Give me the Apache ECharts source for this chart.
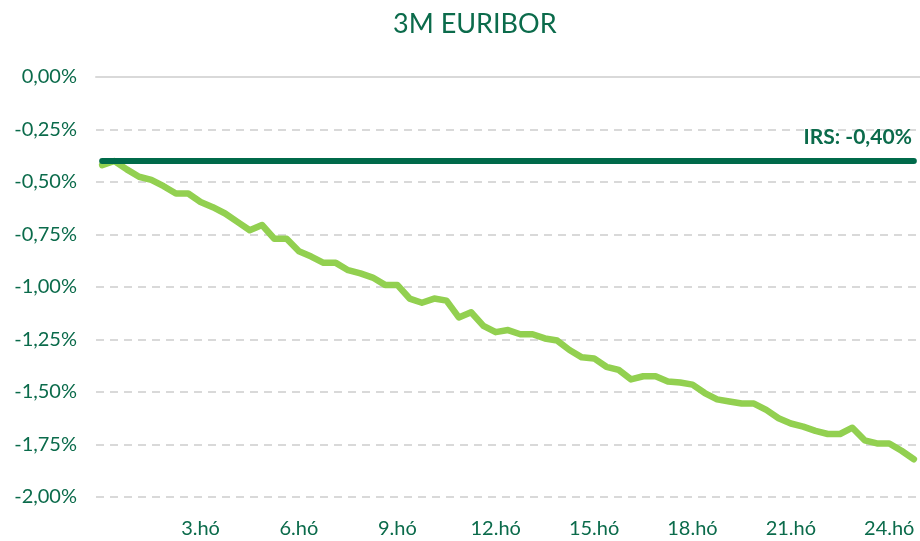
<!DOCTYPE html>
<html>
<head>
<meta charset="utf-8">
<script src="https://cdn.jsdelivr.net/npm/echarts@6/dist/echarts.min.js"></script>
<style>html,body{margin:0;padding:0;background:#fff}#c{width:920px;height:541px}</style>
</head>
<body>
<div id="c"></div>
<script>
// 3M EURIBOR path (%), one point every ~1/3 month (8 points per 3 months)
const euribor = [-0.42, -0.40, -0.44, -0.475, -0.49, -0.52, -0.555, -0.555, -0.595, -0.62,
  -0.65, -0.69, -0.73, -0.705, -0.77, -0.77, -0.83, -0.855, -0.885, -0.885,
  -0.92, -0.935, -0.955, -0.99, -0.99, -1.055, -1.075, -1.055, -1.065, -1.145,
  -1.12, -1.185, -1.215, -1.205, -1.225, -1.225, -1.245, -1.255, -1.30, -1.335,
  -1.34, -1.38, -1.395, -1.44, -1.425, -1.425, -1.45, -1.455, -1.465, -1.505,
  -1.535, -1.545, -1.555, -1.555, -1.585, -1.625, -1.65, -1.665, -1.685, -1.70,
  -1.70, -1.67, -1.73, -1.745, -1.745, -1.78, -1.82];
const irsRate = -0.40;
const tickLabels = ['3.hó', '6.hó', '9.hó', '12.hó', '15.hó', '18.hó', '21.hó', '24.hó'];
const pointsPerTick = 8;
const yTicks = [0, -0.25, -0.5, -0.75, -1.0, -1.25, -1.5, -1.75, -2.0];

const categories = euribor.map((_, i) => String(i));
const irsData = categories.map(() => irsRate);
const fmtPct = v => v.toFixed(2).replace('.', ',') + '%';
const green = '#0B6B4B';
const font = 'Lato, "Noto Sans", sans-serif';

const chart = echarts.init(document.getElementById('c'), null, {renderer: 'canvas'});
chart.setOption({
  animation: false,
  title: {
    text: '3M EURIBOR', left: 388, top: 6,
    textStyle: {color: green, fontFamily: font, fontSize: 27, fontWeight: 'normal'}
  },
  grid: {left: 96, top: 77, width: 826, height: 420, containLabel: false},
  xAxis: [{
    type: 'category', data: categories, boundaryGap: true, position: 'bottom',
    axisLine: {show: false}, axisTick: {show: false},
    axisLabel: {
      interval: (idx) => idx > 0 && idx % pointsPerTick === 0,
      formatter: (v, idx) => tickLabels[idx / pointsPerTick - 1] || '',
      color: green, fontFamily: font, fontSize: 20, margin: 22
    },
    splitLine: {show: false}
  }, {
    type: 'category', data: categories, boundaryGap: true, position: 'top',
    axisLine: {show: true, lineStyle: {color: '#D9D9D9', width: 2}},
    axisTick: {show: false}, axisLabel: {show: false}, splitLine: {show: false}
  }],
  yAxis: {
    type: 'value', min: yTicks[yTicks.length - 1], max: yTicks[0], interval: 0.25,
    axisLine: {show: false}, axisTick: {show: false},
    axisLabel: {formatter: fmtPct, color: green, fontFamily: font, fontSize: 20, margin: 19},
    splitLine: {show: true, lineStyle: {color: '#D9D9D9', width: 2, type: [8, 6]}}
  },
  series: [{
    name: '3M EURIBOR', type: 'line', data: euribor, xAxisIndex: 0,
    showSymbol: false, symbol: 'none',
    lineStyle: {color: '#92D050', width: 6.5, cap: 'round', join: 'round'}
  }, {
    name: 'IRS', type: 'line', data: irsData, xAxisIndex: 0,
    symbol: 'circle', symbolSize: 0, showSymbol: true,
    itemStyle: {color: '#006A4A'},
    lineStyle: {color: '#006A4A', width: 6, cap: 'round'},
    label: {
      show: true, position: 'top', align: 'right', offset: [-2, -8],
      formatter: p => p.dataIndex === irsData.length - 1 ? 'IRS: ' + fmtPct(irsRate) : '',
      color: green, fontFamily: font, fontSize: 21, fontWeight: 'bold'
    }
  }]
});
</script>
</body>
</html>
